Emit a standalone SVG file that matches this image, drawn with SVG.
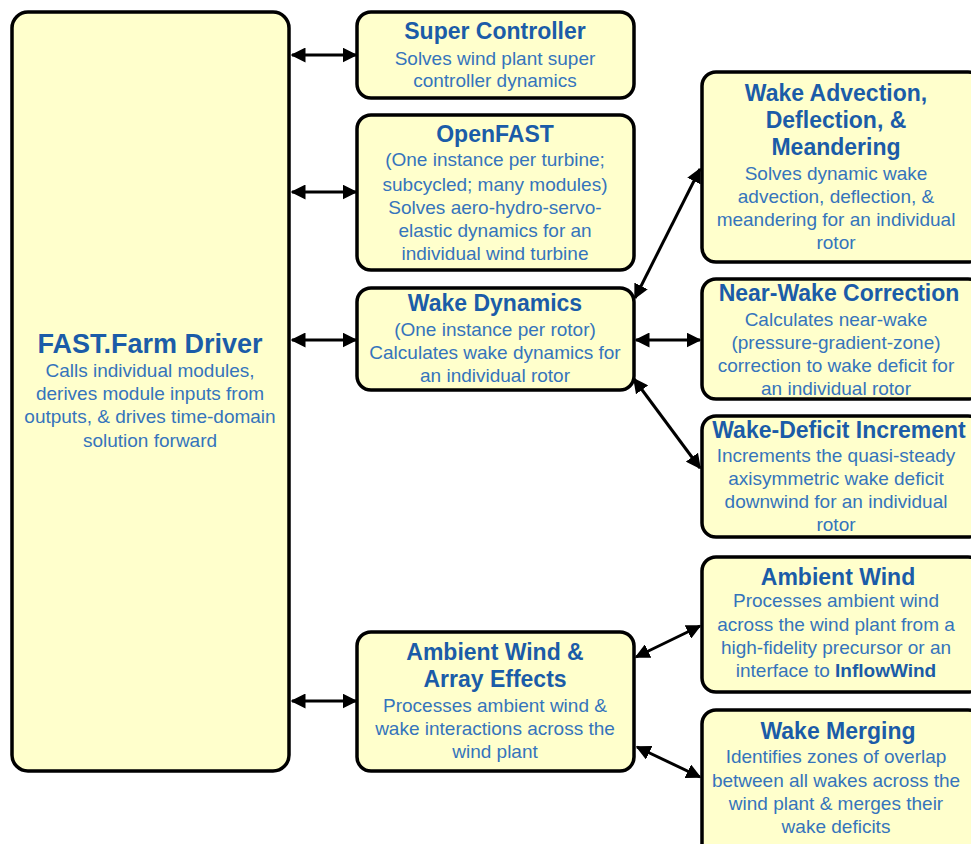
<svg xmlns="http://www.w3.org/2000/svg" width="971" height="844" viewBox="0 0 971 844">
<style>
.box{fill:#FFFFCC;stroke:#000;stroke-width:3.5}
.t{font-family:"Liberation Sans",Arial,sans-serif;font-weight:bold;font-size:23px;fill:#1B5CA8;text-anchor:middle}
.tb{font-family:"Liberation Sans",Arial,sans-serif;font-weight:bold;font-size:27px;fill:#1B5CA8;text-anchor:middle}
.b{font-family:"Liberation Sans",Arial,sans-serif;font-size:19px;fill:#3574BC;text-anchor:middle}
.bb{font-weight:bold;fill:#1B5CA8}
.c{stroke:#000;stroke-width:3;fill:none;marker-start:url(#ah);marker-end:url(#ah)}
</style>
<defs>
<marker id="ah" viewBox="0 0 10 10" refX="9" refY="5" markerWidth="5" markerHeight="5" orient="auto-start-reverse" markerUnits="strokeWidth">
<path d="M0,0 L10,5 L0,10 Z" fill="#000"/>
</marker>
</defs>
<rect width="971" height="844" fill="#fff"/>
<g id="connectors">
<line class="c" x1="292" y1="55" x2="356" y2="55"/>
<line class="c" x1="292" y1="192" x2="356" y2="192"/>
<line class="c" x1="292" y1="340" x2="356" y2="340"/>
<line class="c" x1="292" y1="701" x2="356" y2="701"/>
<line class="c" x1="636" y1="340" x2="700" y2="340"/>
<line class="c" x1="635" y1="298" x2="700" y2="169"/>
<line class="c" x1="634" y1="379" x2="700" y2="468"/>
<line class="c" x1="636" y1="657" x2="700" y2="626"/>
<line class="c" x1="637" y1="747" x2="700" y2="777"/>
</g>
<g id="driver">
<rect class="box" x="12" y="12" width="277" height="759" rx="16"/>
<text class="tb" x="150" y="353">FAST.Farm Driver</text>
<text class="b" x="150" y="377">Calls individual modules,</text>
<text class="b" x="150" y="400">derives module inputs from</text>
<text class="b" x="150" y="423">outputs, &amp; drives time-domain</text>
<text class="b" x="150" y="447">solution forward</text>
</g>
<g id="super-controller">
<rect class="box" x="357" y="12" width="277" height="86" rx="14"/>
<text class="t" x="495" y="39">Super Controller</text>
<text class="b" x="495" y="65">Solves wind plant super</text>
<text class="b" x="495" y="87">controller dynamics</text>
</g>
<g id="openfast">
<rect class="box" x="357" y="115" width="277" height="155" rx="14"/>
<text class="t" x="495" y="142">OpenFAST</text>
<text class="b" x="495" y="166">(One instance per turbine;</text>
<text class="b" x="495" y="191">subcycled; many modules)</text>
<text class="b" x="495" y="214">Solves aero-hydro-servo-</text>
<text class="b" x="495" y="237">elastic dynamics for an</text>
<text class="b" x="495" y="260">individual wind turbine</text>
</g>
<g id="wake-dynamics">
<rect class="box" x="357" y="288" width="277" height="102" rx="14"/>
<text class="t" x="495" y="311">Wake Dynamics</text>
<text class="b" x="495" y="336">(One instance per rotor)</text>
<text class="b" x="495" y="359">Calculates wake dynamics for</text>
<text class="b" x="495" y="382">an individual rotor</text>
</g>
<g id="ambient-array">
<rect class="box" x="357" y="632" width="277" height="139" rx="14"/>
<text class="t" x="495" y="660">Ambient Wind &amp;</text>
<text class="t" x="495" y="687">Array Effects</text>
<text class="b" x="495" y="712">Processes ambient wind &amp;</text>
<text class="b" x="495" y="735">wake interactions across the</text>
<text class="b" x="495" y="758">wind plant</text>
</g>
<g id="wake-advection">
<rect class="box" x="702" y="72" width="280" height="190" rx="14"/>
<text class="t" x="836" y="101">Wake Advection,</text>
<text class="t" x="836" y="128">Deflection, &amp;</text>
<text class="t" x="836" y="155">Meandering</text>
<text class="b" x="836" y="180">Solves dynamic wake</text>
<text class="b" x="836" y="203">advection, deflection, &amp;</text>
<text class="b" x="836" y="226">meandering for an individual</text>
<text class="b" x="836" y="249">rotor</text>
</g>
<g id="near-wake">
<rect class="box" x="702" y="279" width="280" height="120" rx="14"/>
<text class="t" x="839" y="301">Near-Wake Correction</text>
<text class="b" x="836" y="326">Calculates near-wake</text>
<text class="b" x="836" y="349">(pressure-gradient-zone)</text>
<text class="b" x="836" y="372">correction to wake deficit for</text>
<text class="b" x="836" y="395">an individual rotor</text>
</g>
<g id="wake-deficit">
<rect class="box" x="702" y="416" width="280" height="121" rx="14"/>
<text class="t" x="839" y="438">Wake-Deficit Increment</text>
<text class="b" x="836" y="462">Increments the quasi-steady</text>
<text class="b" x="836" y="485">axisymmetric wake deficit</text>
<text class="b" x="836" y="508">downwind for an individual</text>
<text class="b" x="836" y="531">rotor</text>
</g>
<g id="ambient-wind">
<rect class="box" x="702" y="557" width="280" height="135" rx="14"/>
<text class="t" x="838" y="585">Ambient Wind</text>
<text class="b" x="836" y="607">Processes ambient wind</text>
<text class="b" x="836" y="631">across the wind plant from a</text>
<text class="b" x="836" y="654">high-fidelity precursor or an</text>
<text class="b" x="836" y="677">interface to <tspan class="bb">InflowWind</tspan></text>
</g>
<g id="wake-merging">
<rect class="box" x="702" y="710" width="280" height="150" rx="14"/>
<text class="t" x="838" y="739">Wake Merging</text>
<text class="b" x="836" y="763">Identifies zones of overlap</text>
<text class="b" x="836" y="787">between all wakes across the</text>
<text class="b" x="836" y="810">wind plant &amp; merges their</text>
<text class="b" x="836" y="833">wake deficits</text>
</g>
</svg>
